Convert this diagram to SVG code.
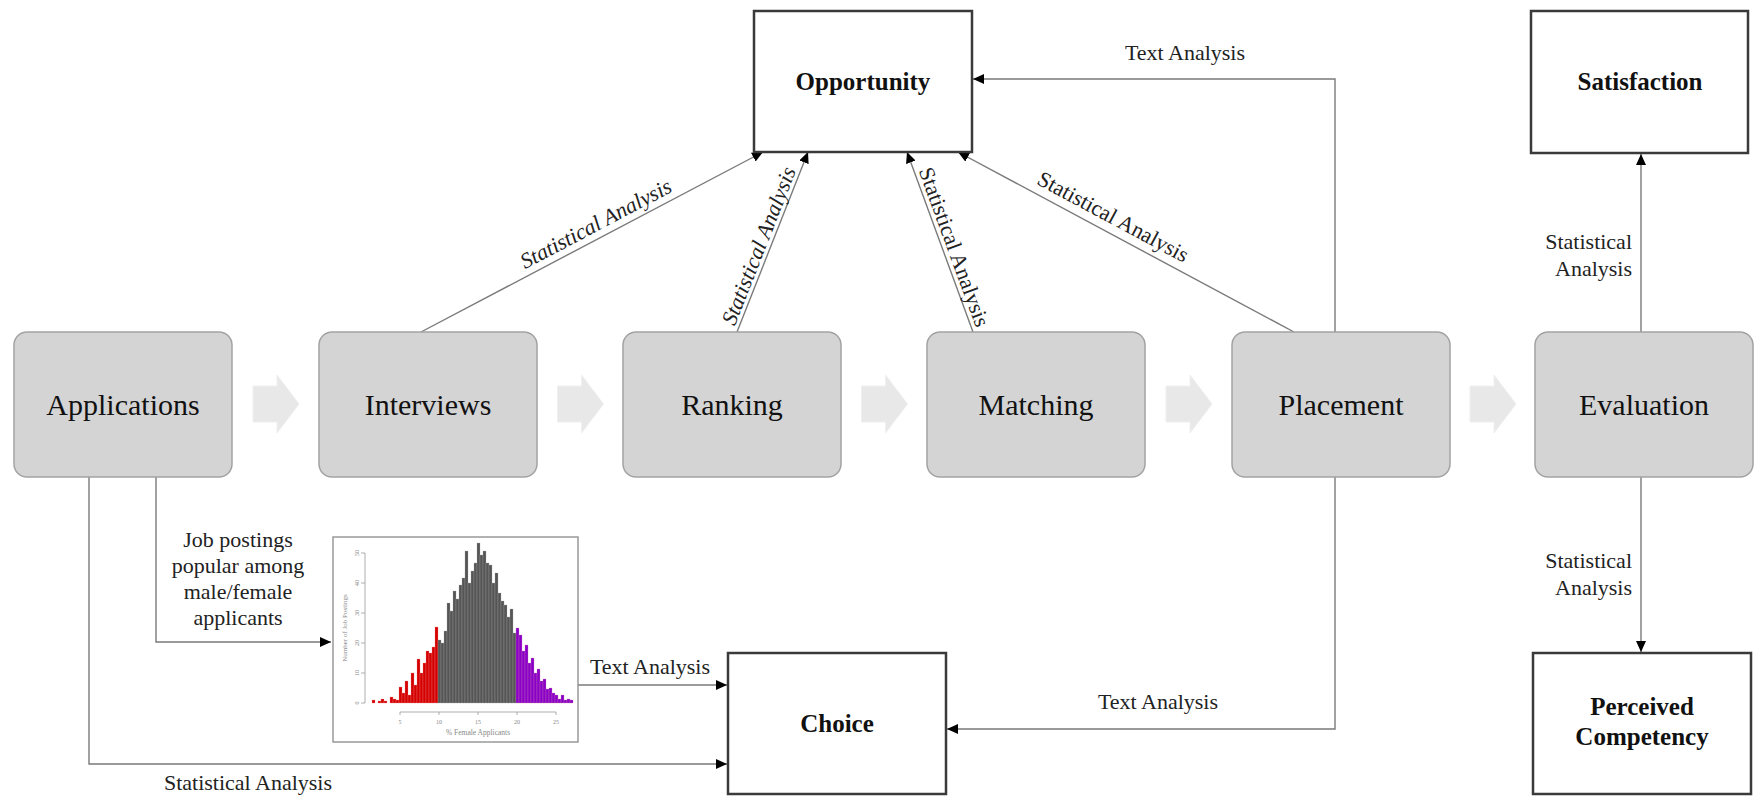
<svg xmlns="http://www.w3.org/2000/svg" width="1757" height="799" viewBox="0 0 1757 799">
<style>
.step{fill:#d4d4d4;stroke:#a3a3a3;stroke-width:1.5}
.stepT{font-family:"Liberation Serif",serif;font-size:30px;fill:#111;text-anchor:middle}
.box{fill:#fff;stroke:#3a3a3a;stroke-width:2.5}
.boxT{font-family:"Liberation Serif",serif;font-size:25px;font-weight:bold;fill:#111;text-anchor:middle}
.chev{fill:#e8e8e8;stroke:#efefef;stroke-width:1}
.lbl{font-family:"Liberation Serif",serif;font-size:22px;fill:#222;text-anchor:middle}
.lblE{font-family:"Liberation Serif",serif;font-size:22px;fill:#222;text-anchor:end}
.it{font-style:italic}
.con{fill:none;stroke:#7a7a7a;stroke-width:1.4}
.ax{fill:none;stroke:#999;stroke-width:0.8}
.tk{font-family:"Liberation Serif",serif;font-size:6px;fill:#888;text-anchor:middle}
.r{fill:#d40000;stroke:#e88;stroke-width:0.3}
.g{fill:#555;stroke:#aaa;stroke-width:0.3}
.p{fill:#8a00c8;stroke:#c8a;stroke-width:0.3}
</style>
<defs>
<marker id="ah" markerUnits="userSpaceOnUse" markerWidth="12" markerHeight="10" refX="11" refY="5" orient="auto">
<path d="M0,0 L11,5 L0,10 z" fill="#000"/>
</marker>
<symbol id="chevron" overflow="visible">
<path class="chev" d="M-22.5,386 L1.5,386 L1.5,375 L23.5,404 L1.5,433 L1.5,422 L-22.5,422 z"/>
</symbol>
</defs>
<rect width="1757" height="799" fill="#fff"/>

<g id="chevrons">
<use href="#chevron" x="275.5"/>
<use href="#chevron" x="580"/>
<use href="#chevron" x="884"/>
<use href="#chevron" x="1188.5"/>
<use href="#chevron" x="1492.5"/>
</g>

<g id="connectors">
<path class="con" d="M421,332 L763,152" marker-end="url(#ah)"/>
<path class="con" d="M737,332 L808,152" marker-end="url(#ah)"/>
<path class="con" d="M973,332 L907,152" marker-end="url(#ah)"/>
<path class="con" d="M1294,332 L958,152" marker-end="url(#ah)"/>
<path class="con" d="M1335,332 L1335,79 L973,79" marker-end="url(#ah)"/>
<path class="con" d="M1641,332 L1641,154" marker-end="url(#ah)"/>
<path class="con" d="M1641,477 L1641,652" marker-end="url(#ah)"/>
<path class="con" d="M1335,477 L1335,729 L947,729" marker-end="url(#ah)"/>
<path class="con" d="M89,477 L89,764 L727,764" marker-end="url(#ah)"/>
<path class="con" d="M156,477 L156,642 L331,642" marker-end="url(#ah)"/>
<path class="con" d="M578,685 L727,685" marker-end="url(#ah)"/>
<text class="lbl it" transform="translate(596,224) rotate(-27.8)" y="7">Statistical Analysis</text>
<text class="lbl it" transform="translate(759,246) rotate(-68.5)" y="7">Statistical Analysis</text>
<text class="lbl" transform="translate(954,247) rotate(69.9)" y="7">Statistical Analysis</text>
<text class="lbl" transform="translate(1113,217) rotate(28.2)" y="7">Statistical Analysis</text>
<text class="lbl" x="1185" y="60">Text Analysis</text>
<text class="lblE" x="1632" y="249">Statistical</text>
<text class="lblE" x="1632" y="276">Analysis</text>
<text class="lblE" x="1632" y="568">Statistical</text>
<text class="lblE" x="1632" y="595">Analysis</text>
<text class="lbl" x="1158" y="709">Text Analysis</text>
<text class="lbl" x="650" y="674">Text Analysis</text>
<text class="lbl" x="248" y="790">Statistical Analysis</text>
<text class="lbl" x="238" y="547">Job postings</text>
<text class="lbl" x="238" y="573">popular among</text>
<text class="lbl" x="238" y="599">male/female</text>
<text class="lbl" x="238" y="625">applicants</text>
</g>

<g id="applications"><rect class="step" x="14" y="332" width="218" height="145" rx="13"/><text class="stepT" x="123" y="415">Applications</text></g>
<g id="interviews"><rect class="step" x="319" y="332" width="218" height="145" rx="13"/><text class="stepT" x="428" y="415">Interviews</text></g>
<g id="ranking"><rect class="step" x="623" y="332" width="218" height="145" rx="13"/><text class="stepT" x="732" y="415">Ranking</text></g>
<g id="matching"><rect class="step" x="927" y="332" width="218" height="145" rx="13"/><text class="stepT" x="1036" y="415">Matching</text></g>
<g id="placement"><rect class="step" x="1232" y="332" width="218" height="145" rx="13"/><text class="stepT" x="1341" y="415">Placement</text></g>
<g id="evaluation"><rect class="step" x="1535" y="332" width="218" height="145" rx="13"/><text class="stepT" x="1644" y="415">Evaluation</text></g>

<g id="opportunity"><rect class="box" x="754" y="11" width="218" height="141"/><text class="boxT" x="863" y="90">Opportunity</text></g>
<g id="satisfaction"><rect class="box" x="1531" y="11" width="217" height="142"/><text class="boxT" x="1640" y="90">Satisfaction</text></g>
<g id="choice"><rect class="box" x="728" y="653" width="218" height="141"/><text class="boxT" x="837" y="732">Choice</text></g>
<g id="perceived-competency"><rect class="box" x="1533" y="653" width="218" height="141"/><text class="boxT" x="1642" y="715">Perceived</text><text class="boxT" x="1642" y="745">Competency</text></g>

<g id="histogram">
<rect x="333" y="537" width="245" height="205" fill="#fff" stroke="#999" stroke-width="1.5"/>
<path class="ax" d="M365,553 L365,703 M361,553 L365,553 M361,583 L365,583 M361,613 L365,613 M361,643 L365,643 M361,673 L365,673 M361,703 L365,703"/>
<g class="tk">
<text transform="translate(357,553) rotate(-90)" y="2">50</text>
<text transform="translate(357,583) rotate(-90)" y="2">40</text>
<text transform="translate(357,613) rotate(-90)" y="2">30</text>
<text transform="translate(357,643) rotate(-90)" y="2">20</text>
<text transform="translate(357,673) rotate(-90)" y="2">10</text>
<text transform="translate(357,703) rotate(-90)" y="2">0</text>
<text transform="translate(345,628) rotate(-90)" y="2" font-size="7">Number of Job Postings</text>
<text x="400" y="724">5</text>
<text x="439" y="724">10</text>
<text x="478" y="724">15</text>
<text x="517" y="724">20</text>
<text x="556" y="724">25</text>
<text x="478" y="735" font-size="7.5">% Female Applicants</text>
</g>
<path class="ax" d="M400,712 L556,712 M400,712 L400,715 M439,712 L439,715 M478,712 L478,715 M517,712 L517,715 M556,712 L556,715"/>
<g class="r">
<rect x="372" y="700" width="3" height="3"/>
<rect x="378" y="701" width="3" height="2"/>
<rect x="381" y="699" width="3" height="4"/>
<rect x="384" y="701" width="3" height="2"/>
<rect x="390" y="697" width="3" height="6"/>
<rect x="393" y="699" width="3" height="4"/>
<rect x="396" y="700" width="3" height="3"/>
<rect x="399" y="687" width="3" height="16"/>
<rect x="402" y="693" width="3" height="10"/>
<rect x="405" y="681" width="3" height="22"/>
<rect x="408" y="695" width="3" height="8"/>
<rect x="411" y="673" width="3" height="30"/>
<rect x="414" y="685" width="3" height="18"/>
<rect x="417" y="659" width="3" height="44"/>
<rect x="420" y="673" width="3" height="30"/>
<rect x="423" y="663" width="3" height="40"/>
<rect x="426" y="651" width="3" height="52"/>
<rect x="429" y="653" width="3" height="50"/>
<rect x="432" y="647" width="3" height="56"/>
<rect x="435" y="627" width="3" height="76"/>
</g>
<g class="g">
<rect x="438" y="640" width="3" height="63"/>
<rect x="441" y="643" width="3" height="60"/>
<rect x="444" y="631" width="3" height="72"/>
<rect x="447" y="603" width="3" height="100"/>
<rect x="450" y="611" width="3" height="92"/>
<rect x="453" y="591" width="3" height="112"/>
<rect x="456" y="599" width="3" height="104"/>
<rect x="459" y="585" width="3" height="118"/>
<rect x="462" y="578" width="3" height="125"/>
<rect x="465" y="551" width="3" height="152"/>
<rect x="468" y="583" width="3" height="120"/>
<rect x="471" y="571" width="3" height="132"/>
<rect x="474" y="563" width="3" height="140"/>
<rect x="477" y="543" width="3" height="160"/>
<rect x="480" y="555" width="3" height="148"/>
<rect x="483" y="551" width="3" height="152"/>
<rect x="486" y="563" width="3" height="140"/>
<rect x="489" y="565" width="3" height="138"/>
<rect x="492" y="583" width="3" height="120"/>
<rect x="495" y="573" width="3" height="130"/>
<rect x="498" y="593" width="3" height="110"/>
<rect x="501" y="601" width="3" height="102"/>
<rect x="504" y="605" width="3" height="98"/>
<rect x="507" y="617" width="3" height="86"/>
<rect x="510" y="609" width="3" height="94"/>
<rect x="513" y="633" width="3" height="70"/>
</g>
<g class="p">
<rect x="516" y="628" width="3" height="75"/>
<rect x="519" y="635" width="3" height="68"/>
<rect x="522" y="651" width="3" height="52"/>
<rect x="525" y="645" width="3" height="58"/>
<rect x="528" y="663" width="3" height="40"/>
<rect x="531" y="658" width="3" height="45"/>
<rect x="534" y="673" width="3" height="30"/>
<rect x="537" y="669" width="3" height="34"/>
<rect x="540" y="681" width="3" height="22"/>
<rect x="543" y="679" width="3" height="24"/>
<rect x="546" y="689" width="3" height="14"/>
<rect x="549" y="688" width="3" height="15"/>
<rect x="552" y="693" width="3" height="10"/>
<rect x="555" y="695" width="3" height="8"/>
<rect x="558" y="699" width="3" height="4"/>
<rect x="561" y="695" width="3" height="8"/>
<rect x="564" y="700" width="3" height="3"/>
<rect x="567" y="699" width="3" height="4"/>
<rect x="570" y="700" width="3" height="3"/>
</g>
</g>
</svg>
